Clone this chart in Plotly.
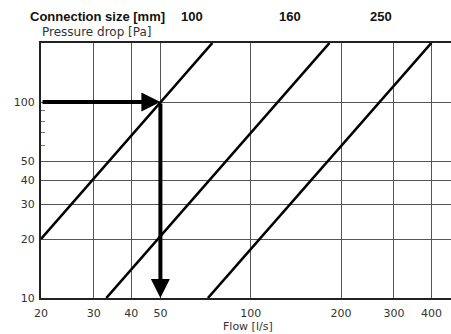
import math
import plotly.graph_objects as go

# ---- data ----
connection_sizes = ["100", "160", "250"]
line_100_flow = [20, 74.5]
line_100_pressure = [20, 200]
line_160_flow = [33, 183]
line_160_pressure = [10, 200]
line_250_flow = [72, 400]
line_250_pressure = [10, 200]

x_tick_vals = [20, 30, 40, 50, 100, 200, 300, 400]
y_tick_vals = [10, 20, 30, 40, 50, 100]
y_minor_vals = [60, 70, 80, 90]

example_flow = 50
example_pressure = 100

x_min, x_max = 20, 465
y_min, y_max = 10, 200

fig = go.Figure()
for fx, py in [(line_100_flow, line_100_pressure),
               (line_160_flow, line_160_pressure),
               (line_250_flow, line_250_pressure)]:
    fig.add_trace(go.Scatter(x=fx, y=py, mode="lines",
                             line=dict(color="black", width=2.6),
                             showlegend=False, hoverinfo="skip"))

L = math.log10
fig.add_annotation(x=L(example_flow), y=L(example_pressure),
                   ax=L(x_min), ay=L(example_pressure),
                   xref="x", yref="y", axref="x", ayref="y",
                   text="", showarrow=True, arrowhead=2, arrowsize=0.95,
                   arrowwidth=4, arrowcolor="black")
fig.add_annotation(x=L(example_flow), y=L(y_min),
                   ax=L(example_flow), ay=L(example_pressure),
                   xref="x", yref="y", axref="x", ayref="y",
                   text="", showarrow=True, arrowhead=2, arrowsize=0.95,
                   arrowwidth=4, arrowcolor="black")

W, H = 451, 334
ml, mr, mt, mb = 41, 0, 43, 36
pw = W - ml - mr
ph = H - mt - mb

def px_x(p):
    return (p - ml) / pw

def px_y(p):
    return 1 - (p - mt) / ph

fig.add_annotation(text="<b>Connection size [mm]</b>", x=px_x(28), y=px_y(17),
                   xref="paper", yref="paper", xanchor="left", yanchor="middle",
                   showarrow=False,
                   font=dict(family="Liberation Sans", size=13, color="#111"))
for lab, pxpos in zip(connection_sizes, [192, 290, 381]):
    fig.add_annotation(text="<b>" + lab + "</b>", x=px_x(pxpos), y=px_y(17),
                       xref="paper", yref="paper", xanchor="center", yanchor="middle",
                       showarrow=False,
                       font=dict(family="Liberation Sans", size=13, color="#111"))
fig.add_annotation(text="Pressure drop [Pa]", x=px_x(40), y=px_y(32),
                   xref="paper", yref="paper", xanchor="left", yanchor="middle",
                   showarrow=False,
                   font=dict(family="DejaVu Sans", size=12, color="#333"))
fig.add_annotation(text="Flow [l/s]", x=px_x(248), y=px_y(326),
                   xref="paper", yref="paper", xanchor="center", yanchor="middle",
                   showarrow=False,
                   font=dict(family="DejaVu Sans", size=11, color="#333"))

fig.update_layout(
    width=W, height=H,
    margin=dict(l=ml, r=mr, t=mt, b=mb, pad=0, autoexpand=False),
    paper_bgcolor="white", plot_bgcolor="white",
    font=dict(family="DejaVu Sans", size=11, color="#333"),
    xaxis=dict(type="log", range=[L(x_min), L(x_max)], automargin=False,
               tickmode="array", tickvals=x_tick_vals,
               ticktext=[str(v) for v in x_tick_vals],
               showgrid=True, gridcolor="#555", gridwidth=1,
               showline=True, linecolor="#222", linewidth=2, mirror="allticks",
               ticks="", ticklabelstandoff=4, zeroline=False),
    yaxis=dict(type="log", range=[L(y_min), L(y_max)], automargin=False,
               tickmode="array", tickvals=y_tick_vals,
               ticktext=[str(v) for v in y_tick_vals],
               showgrid=True, gridcolor="#555", gridwidth=1,
               showline=True, linecolor="#222", linewidth=2,
               ticks="", ticklabelstandoff=2, zeroline=False,
               minor=dict(tickmode="array", tickvals=y_minor_vals,
                          ticks="inside", ticklen=4, tickcolor="#777",
                          showgrid=False)),
)

fig.write_html("out.html", config={"displayModeBar": False})
with open("out.html", "r", encoding="utf-8") as f:
    html = f.read()
html = html.replace("<head>", "<head><style>html,body{margin:0;padding:0;overflow:hidden;}</style>", 1)
with open("out.html", "w", encoding="utf-8") as f:
    f.write(html)
